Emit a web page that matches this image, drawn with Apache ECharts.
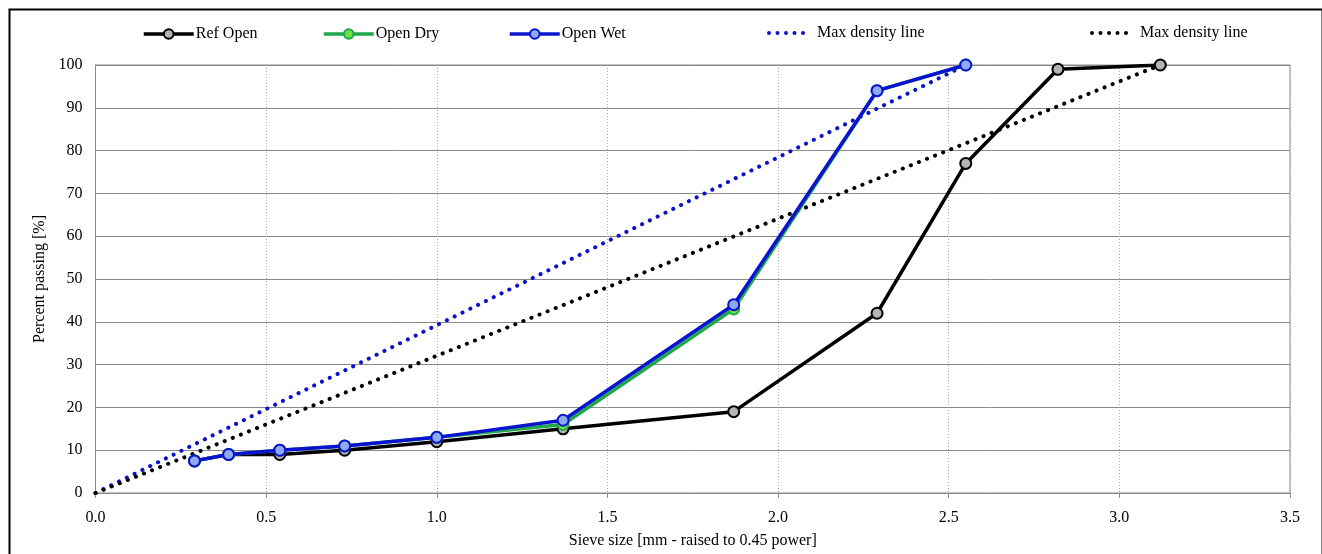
<!DOCTYPE html>
<html>
<head>
<meta charset="utf-8">
<script src="https://cdn.jsdelivr.net/npm/echarts@6/dist/echarts.min.js"></script>
<style>
  html, body { margin: 0; padding: 0; background: #fff; }
  #chart { width: 1322px; height: 554px; }
</style>
</head>
<body>
<div id="chart"></div>
<script>
// Sieve sizes in mm raised to the 0.45 power, with percent passing per mix
const refOpenX  = [0.29, 0.39, 0.54, 0.73, 1.0, 1.37, 1.87, 2.29, 2.55, 2.82, 3.12];
const refOpenY  = [7.5, 9, 9, 10, 12, 15, 19, 42, 77, 99, 100];
const openX     = [0.29, 0.39, 0.54, 0.73, 1.0, 1.37, 1.87, 2.29, 2.55];
const openDryY  = [7.5, 9, 10, 11, 13, 16, 43, 94, 100];
const openWetY  = [7.5, 9, 10, 11, 13, 17, 44, 94, 100];
// Maximum density lines: from the origin to the maximum aggregate size
const maxDensityOpenX = [0, 2.55];
const maxDensityOpenY = [0, 100];
const maxDensityRefX  = [0, 3.12];
const maxDensityRefY  = [0, 100];

const xTicks = [0, 0.5, 1.0, 1.5, 2.0, 2.5, 3.0, 3.5];
const yTicks = [0, 10, 20, 30, 40, 50, 60, 70, 80, 90, 100];

const pairs = (xs, ys) => xs.map((x, i) => [x, ys[i]]);
const FONT = 'Liberation Serif';

// Five round dots used as the legend icon of the dotted lines
const DOTS_ICON = 'path://' + [0, 1, 2, 3, 4].map(i => {
  const x = i * 8.5;
  return `M${x},2 a2,2 0 1,0 4,0 a2,2 0 1,0 -4,0 Z`;
}).join(' ');

const chart = echarts.init(document.getElementById('chart'), null, { renderer: 'canvas' });

const dotted = (color) => ({
  color: color, width: 4, type: [0.1, 8.6], cap: 'round'
});

const legendBase = {
  top: 21, itemWidth: 50, itemHeight: 12, itemGap: 0,
  textStyle: { fontFamily: FONT, fontSize: 16, color: '#000', padding: [0, 0, 0, -3] },
  lineStyle: { width: 3.5 },
  selectedMode: false
};
const dotLegendBase = Object.assign({}, legendBase, {
  top: 20, itemWidth: 38, itemHeight: 4,
  textStyle: { fontFamily: FONT, fontSize: 16, color: '#000', padding: [0, 0, 0, 7] }
});

chart.setOption({
  animation: false,
  backgroundColor: '#fff',
  textStyle: { fontFamily: FONT },
  graphic: [{
    type: 'rect', left: 7, top: 7,
    shape: { width: 1313, height: 560 },
    style: { fill: 'none', stroke: '#000', lineWidth: 2 },
    silent: true
  }],
  legend: [
    Object.assign({}, legendBase, { left: 137, data: ['Ref Open'] }),
    Object.assign({}, legendBase, { left: 317, data: ['Open Dry'] }),
    Object.assign({}, legendBase, { left: 503, data: ['Open Wet'] }),
    Object.assign({}, dotLegendBase, { left: 762, data: [{ name: 'maxOpen', icon: DOTS_ICON }],
                                       formatter: () => 'Max density line' }),
    Object.assign({}, dotLegendBase, { left: 1085, data: [{ name: 'maxRef', icon: DOTS_ICON }],
                                       formatter: () => 'Max density line' })
  ],
  grid: { left: 95.5, right: 32, top: 65, bottom: 57, show: true, borderColor: '#8a8a8a', borderWidth: 1 },
  xAxis: {
    type: 'value', min: xTicks[0], max: xTicks[xTicks.length - 1], interval: 0.5,
    name: 'Sieve size [mm - raised to 0.45 power]',
    nameLocation: 'middle', nameGap: 40,
    nameTextStyle: { fontFamily: FONT, fontSize: 16, color: '#000' },
    axisLine: { show: true, lineStyle: { color: '#8a8a8a', width: 1 } },
    axisTick: { show: true, length: 5, lineStyle: { color: '#8a8a8a' } },
    axisLabel: { fontFamily: FONT, fontSize: 16, color: '#000', margin: 17,
                 formatter: v => v.toFixed(1) },
    splitLine: { show: true, lineStyle: { color: '#a8a8a8', type: [1, 2], width: 1 } }
  },
  yAxis: {
    type: 'value', min: yTicks[0], max: yTicks[yTicks.length - 1], interval: 10,
    name: 'Percent passing [%]',
    nameLocation: 'middle', nameGap: 46,
    nameTextStyle: { fontFamily: FONT, fontSize: 16, color: '#000' },
    axisLine: { show: true, lineStyle: { color: '#8a8a8a', width: 1 } },
    axisTick: { show: false },
    axisLabel: { fontFamily: FONT, fontSize: 16, color: '#000', margin: 13 },
    splitLine: { show: true, lineStyle: { color: '#8a8a8a', width: 1 } }
  },
  series: [
    {
      name: 'maxOpen', type: 'line', data: pairs(maxDensityOpenX, maxDensityOpenY),
      showSymbol: false, symbol: 'none', color: '#0a12c8',
      lineStyle: dotted('#0a12c8'), z: 1
    },
    {
      name: 'maxRef', type: 'line', data: pairs(maxDensityRefX, maxDensityRefY),
      showSymbol: false, symbol: 'none', color: '#000',
      lineStyle: dotted('#000'), z: 1
    },
    {
      name: 'Ref Open', type: 'line', data: pairs(refOpenX, refOpenY),
      symbol: 'circle', symbolSize: 11, color: '#000',
      lineStyle: { color: '#000', width: 3.5 },
      itemStyle: { color: '#b4b4b4', borderColor: '#000', borderWidth: 2 }, z: 2
    },
    {
      name: 'Open Dry', type: 'line', data: pairs(openX, openDryY),
      symbol: 'circle', symbolSize: 11, color: '#1ea84a',
      lineStyle: { color: '#1ea84a', width: 3.5 },
      itemStyle: { color: '#6ee04a', borderColor: '#1ea84a', borderWidth: 2 }, z: 3
    },
    {
      name: 'Open Wet', type: 'line', data: pairs(openX, openWetY),
      symbol: 'circle', symbolSize: 11, color: '#0a14d0',
      lineStyle: { color: '#0a14d0', width: 3.5 },
      itemStyle: { color: '#8eaaf0', borderColor: '#0a14d0', borderWidth: 2 }, z: 4
    }
  ]
});
</script>
</body>
</html>
